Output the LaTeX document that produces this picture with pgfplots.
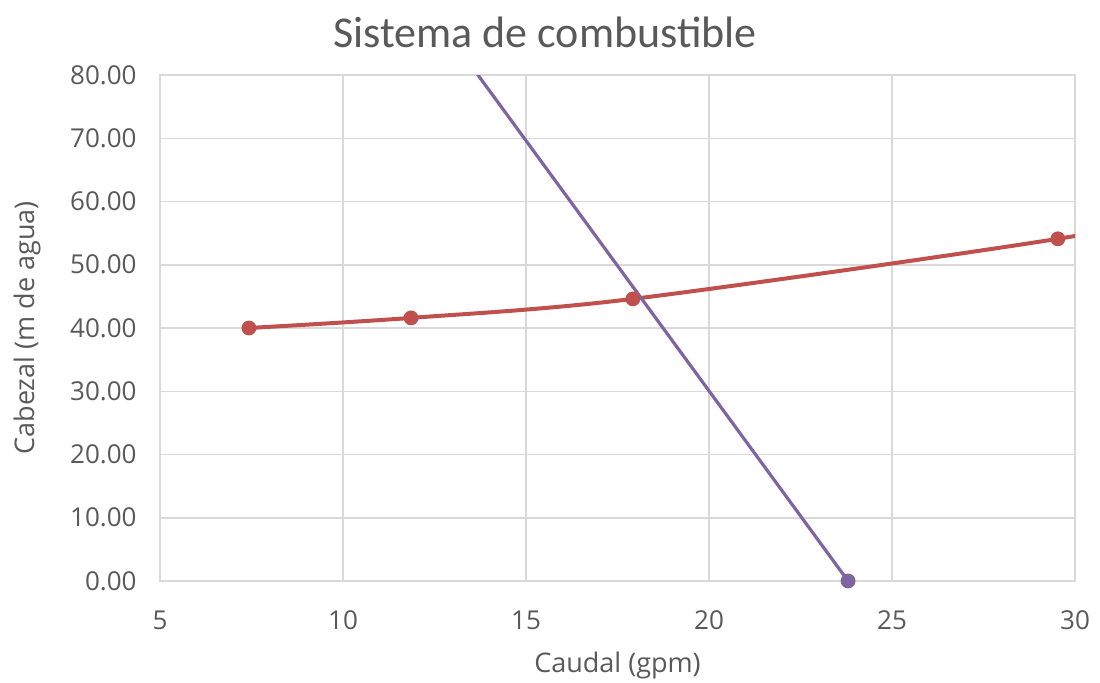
\documentclass[border=0pt]{standalone}
\usepackage{pgfplots}
\pgfplotsset{compat=1.18}
\usepackage{fontspec}
\setmainfont{Open Sans}
\newfontfamily\titlefont{Carlito}
\definecolor{txtgray}{HTML}{595959}
\definecolor{gridgray}{HTML}{D9D9D9}
\definecolor{sysred}{HTML}{C0504D}
\definecolor{pumppurple}{HTML}{8064A2}
\begin{document}
\begin{tikzpicture}
\useasboundingbox (-80bp,-51bp) rectangle (470bp,290.5bp);
\begin{axis}[
  at={(0,0)}, anchor=south west,
  scale only axis,
  width=457.5bp, height=253bp,
  xmin=5, xmax=30, ymin=0, ymax=80,
  xtick={5,10,15,20,25,30},
  ytick={0,10,20,30,40,50,60,70,80},
  major tick length=0pt,
  grid=major,
  major grid style={draw=gridgray, line width=0.75bp},
  axis line style={draw=gridgray, line width=0.75bp},
  /pgf/number format/assume math mode=true,
  yticklabel={\pgfmathprintnumber[fixed,fixed zerofill,precision=2]{\tick}},
  xticklabel style={font=\fontsize{13bp}{15bp}\selectfont, text=txtgray, anchor=center, inner sep=0pt, yshift=-19.5bp},
  yticklabel style={font=\fontsize{13bp}{15bp}\selectfont, text=txtgray, anchor=east, inner sep=0pt, xshift=-11.5bp},
  xlabel={Caudal (gpm)},
  xlabel style={font=\fontsize{13.5bp}{16bp}\selectfont, text=txtgray, at={(axis description cs:0.5,0)}, anchor=center, yshift=-42bp},
  clip=true,
]
\addplot[color=sysred, line width=2bp, smooth, mark=*, mark size=3.2bp, mark indices={1,2,3,4}, mark options={fill=sysred, draw=sysred, line width=1bp}]
  coordinates {(7.43,40.0) (11.86,41.6) (17.92,44.6) (29.53,54.1) (36,61.3)};
\addplot[color=pumppurple, line width=1.6bp, no markers]
  coordinates {(12.5,89.4) (23.8,0)};
\addplot[only marks, mark=*, mark size=3.2bp, color=pumppurple, mark options={fill=pumppurple, draw=pumppurple, line width=1bp}, clip=false]
  coordinates {(23.8,0)};
\end{axis}
\node[font=\fontsize{13.5bp}{16bp}\selectfont, text=txtgray, anchor=center, rotate=90] at (-66.5bp,126.5bp) {Cabezal (m de agua)};
\node[font=\titlefont\fontsize{22bp}{26bp}\selectfont, text=txtgray, anchor=center] at (192.5bp,274.5bp) {Sistema de combustible};
\end{tikzpicture}
\end{document}
